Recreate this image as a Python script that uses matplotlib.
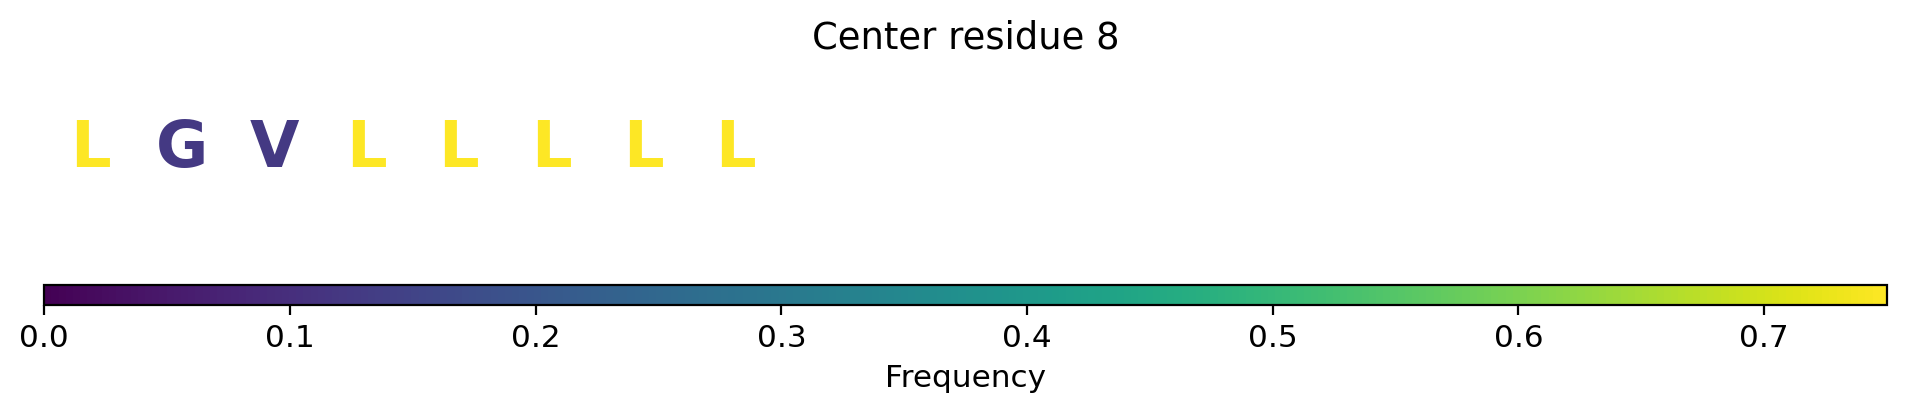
import numpy as np
import matplotlib
matplotlib.use("Agg")
import matplotlib.pyplot as plt
from matplotlib import cm
from matplotlib.colors import Normalize

# residues around the centre and their frequency
residues = ["L", "G", "V", "L", "L", "L", "L", "L"]
freqs = [0.75, 0.125, 0.125, 0.75, 0.75, 0.75, 0.75, 0.75]
window = 20
vmax = 0.75

plt.rcParams["font.size"] = 11

W, H, dpi = 1907, 416, 200
fig = plt.figure(figsize=(W / dpi, H / dpi), dpi=dpi)

left = 44.3 / W
width = (1887 - 44.3) / W

ax = fig.add_axes([left, 1 - 228.8 / H, width, (228.8 - 64.7) / H])
cmap = plt.get_cmap("viridis")
norm = Normalize(vmin=0, vmax=vmax)

for i, (res, f) in enumerate(zip(residues, freqs)):
    ax.text(i + 0.5, 0.3766, res, ha="center", va="baseline",
            fontsize=23, fontweight="bold", color=cmap(norm(f)))

ax.set_xlim(0, window)
ax.set_ylim(0, 1)
ax.axis("off")
ax.set_title("Center residue 8", fontsize=13.3)

cax = fig.add_axes([left, 1 - 304.7 / H, width, 20 / H])
sm = cm.ScalarMappable(norm=norm, cmap=cmap)
cb = fig.colorbar(sm, cax=cax, orientation="horizontal")
cb.set_label("Frequency", fontsize=11.2)
cax.tick_params(labelsize=11.2)

fig.savefig("out.png", dpi=dpi)
